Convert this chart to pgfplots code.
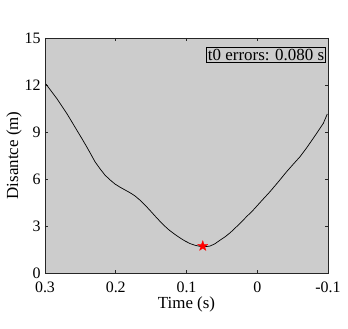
\documentclass[border=0pt]{standalone}
\usepackage{fontspec}
\setmainfont{Liberation Serif}
\usepackage{pgfplots}
\pgfplotsset{compat=1.18}
\definecolor{bgray}{RGB}{204,204,204}
\definecolor{axgray}{RGB}{38,38,38}
\pgfdeclareplotmark{fstar}{%
  \pgfpathmoveto{\pgfqpointpolar{90}{\pgfplotmarksize}}%
  \pgfpathlineto{\pgfqpointpolar{126}{0.4\pgfplotmarksize}}%
  \pgfpathlineto{\pgfqpointpolar{162}{\pgfplotmarksize}}%
  \pgfpathlineto{\pgfqpointpolar{198}{0.4\pgfplotmarksize}}%
  \pgfpathlineto{\pgfqpointpolar{234}{\pgfplotmarksize}}%
  \pgfpathlineto{\pgfqpointpolar{270}{0.4\pgfplotmarksize}}%
  \pgfpathlineto{\pgfqpointpolar{306}{\pgfplotmarksize}}%
  \pgfpathlineto{\pgfqpointpolar{342}{0.4\pgfplotmarksize}}%
  \pgfpathlineto{\pgfqpointpolar{18}{\pgfplotmarksize}}%
  \pgfpathlineto{\pgfqpointpolar{54}{0.4\pgfplotmarksize}}%
  \pgfpathclose
  \pgfusepathqfillstroke}
\begin{document}
\begin{tikzpicture}[x=1bp,y=1bp]
\path[use as bounding box] (0,0) rectangle (348,329);
\begin{axis}[
  at={(45bp,56bp)}, anchor=south west,
  scale only axis, width=283bp, height=235bp,
  x dir=reverse,
  xmin=-0.1, xmax=0.3, ymin=0, ymax=15,
  xtick={-0.1,0,0.1,0.2,0.3},
  xticklabels={-0.1,0,0.1,0.2,0.3},
  ytick={0,3,6,9,12,15},
  yticklabels={0,3,6,9,12,15},
  /pgf/number format/assume math mode=true,
  axis background/.style={fill=bgray},
  axis line style={axgray, line width=0.8bp},
  tick style={axgray, line width=0.6bp},
  tick align=inside, major tick length=3bp,
  font=\fontsize{17}{19}\selectfont,
  ticklabel style={font=\fontsize{16}{18}\selectfont},
  xticklabel style={yshift=-5bp},
  yticklabel style={xshift=-1bp},
  xlabel={Time (s)}, ylabel={Disantce (m)},
  xlabel style={yshift=2bp},
  ylabel style={yshift=-4bp},
  clip=false,
]
\addplot[black, line width=0.7bp] coordinates {
(0.2986,12.06) (0.2910,11.60) (0.2835,11.15) (0.2764,10.67) (0.2693,10.19) (0.2622,9.66) (0.2552,9.13)
(0.2481,8.60) (0.2411,8.06) (0.2350,7.57) (0.2293,7.10) (0.2220,6.64) (0.2152,6.25) (0.2080,5.94)
(0.2011,5.68) (0.1940,5.48) (0.1869,5.30) (0.1800,5.13) (0.1728,4.92) (0.1660,4.66)
(0.1587,4.34) (0.1515,3.99) (0.1445,3.64) (0.1375,3.30) (0.1304,2.98) (0.1240,2.72) (0.1172,2.49) (0.1092,2.24)
(0.1020,2.04) (0.095,1.88) (0.088,1.77) (0.0809,1.70) (0.075,1.68) (0.0700,1.70) (0.0668,1.72) (0.0600,1.86) (0.0527,2.09)
(0.0455,2.31) (0.0385,2.56) (0.0314,2.86) (0.0244,3.17) (0.0150,3.60) (0.0056,4.02) (-0.006,4.60) (-0.018,5.19) (-0.030,5.83) (-0.0416,6.47)
(-0.0510,6.95) (-0.0604,7.42) (-0.0700,8.00) (-0.0792,8.60) (-0.0860,9.05) (-0.0934,9.55) (-0.099,10.15)
};
\addplot[only marks, mark=fstar, mark size=5.5bp, mark options={fill=red, draw=red, line width=0.2bp}] coordinates {(0.077,1.72)};
\node[draw=black, fill=bgray, anchor=north east, inner sep=1.5bp, line width=0.5bp,
      font=\fontsize{17}{19}\selectfont]
  at (axis cs:-0.097,14.42) {t0 errors: 0.080 s};
\end{axis}
\end{tikzpicture}
\end{document}
